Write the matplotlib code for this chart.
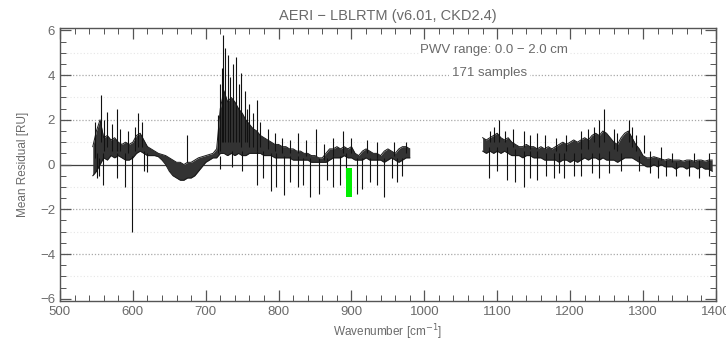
import numpy as np
import matplotlib
matplotlib.use("Agg")
import matplotlib.pyplot as plt
from matplotlib.ticker import MultipleLocator

# ---------------- data ----------------
# Segment 1 envelope (every 5 cm-1)
seg1_wn = list(range(545, 985, 5))
seg1_lo = [-0.5, -0.3, 0.0, 0.3, 0.2, 0.4, 0.3, 0.4, 0.3, 0.2, 0.2, 0.3, 0.5, 0.6, 0.5, 0.4,
           0.4, 0.4, 0.35, 0.2, 0.0, -0.3, -0.5, -0.6, -0.7, -0.7, -0.6, -0.6, -0.5, -0.3, -0.1, 0.1,
           0.2, 0.3, 0.3, 0.5, 0.5, 0.4, 0.5, 0.4, 0.5, 0.4, 0.4, 0.5, 0.5, 0.5, 0.5, 0.4,
           0.4, 0.4, 0.3, 0.3, 0.3, 0.3, 0.3, 0.2, 0.2, 0.2, 0.2, 0.2, 0.1, 0.1, 0.1, 0.1,
           0.1, 0.2, 0.3, 0.3, 0.3, 0.4, 0.3, 0.3, 0.2, 0.2, 0.2, 0.3, 0.2, 0.2, 0.2,
           0.2, 0.1, 0.2, 0.3, 0.2, 0.1, 0.2, 0.3, 0.3]
seg1_up = [0.8, 1.5, 2.0, 1.2, 1.3, 1.1, 1.2, 1.0, 0.9, 1.0, 0.9, 1.0, 1.3, 1.4, 1.1, 0.8,
           0.7, 0.6, 0.5, 0.45, 0.4, 0.3, 0.2, 0.1, 0.1, 0.0, 0.1, 0.1, 0.2, 0.3, 0.35, 0.4,
           0.45, 0.5, 0.7, 2.5, 3.3, 2.8, 3.0, 2.8, 2.5, 2.3, 2.0, 1.8, 1.6, 1.5, 1.3, 1.2,
           1.1, 1.0, 0.9, 0.9, 0.8, 0.8, 0.7, 0.7, 0.6, 0.6, 0.5, 0.5, 0.4, 0.4, 0.3, 0.3,
           0.5, 0.7, 0.7, 0.8, 0.7, 0.8, 0.7, 0.8, 0.5, 0.4, 0.6, 0.7, 0.6, 0.5, 0.5, 0.4,
           0.6, 0.7, 0.6, 0.5, 0.7, 0.8, 0.8, 0.7]

# Segment 2 envelope (every 5 cm-1)
seg2_wn = list(range(1080, 1400, 5))
seg2_lo = [0.6, 0.5, 0.6, 0.5, 0.6, 0.5, 0.6, 0.5, 0.4, 0.4, 0.4, 0.3, 0.4, 0.4, 0.3, 0.3,
           0.3, 0.2, 0.2, 0.2, 0.2, 0.1, 0.2, 0.2, 0.1, 0.2, 0.1, 0.2, 0.3, 0.2, 0.3, 0.3,
           0.2, 0.3, 0.2, 0.2, 0.2, 0.1, 0.2, 0.3, 0.3, 0.3, 0.2, 0.1, 0.0, -0.1, -0.1, 0.0,
           -0.1, 0.0, -0.1, -0.1, -0.1, -0.2, -0.1, -0.1, -0.2, -0.1, -0.1, -0.2, -0.1, -0.2, -0.2, -0.3]
seg2_up = [1.2, 1.1, 1.2, 1.3, 1.4, 1.2, 1.1, 1.2, 1.0, 0.9, 0.8, 0.8, 0.9, 0.8, 0.8, 0.7,
           0.8, 0.7, 0.8, 0.7, 0.8, 0.9, 1.0, 0.9, 1.0, 1.1, 1.0, 1.1, 1.2, 1.1, 1.3, 1.4,
           1.3, 1.5, 1.4, 1.2, 1.0, 0.9, 1.2, 1.4, 1.5, 1.2, 0.9, 0.7, 0.4, 0.3, 0.3, 0.35,
           0.3, 0.25, 0.2, 0.25, 0.2, 0.2, 0.2, 0.15, 0.2, 0.2, 0.15, 0.2, 0.2, 0.15, 0.2, 0.2]

# Narrow spectral spikes: wavenumber, base value, tip value
spike_wn = [556, 564, 578, 607, 675, 717, 720, 724, 730, 737, 742, 749, 760, 770, 826, 852, 888, 922,
            551, 559, 578, 589, 599, 619, 719, 770, 778, 790, 797, 808, 826, 843, 856, 866, 874,
            884, 908, 925, 945, 955, 970,
            1090, 1103, 1121, 1137, 1154, 1165, 1233, 1247, 1281, 1302, 1325,
            1089, 1113, 1124, 1137, 1154, 1167, 1178, 1192, 1206, 1254, 1295, 1332, 1363, 1377,
            548, 553, 561, 571, 583, 594, 603, 612, 615,
            722, 727, 733, 745, 754, 757, 765, 775, 785, 795, 805, 815, 838, 862, 875, 900, 935, 958, 975,
            736, 750, 815, 834, 893, 915, 935, 962,
            1095, 1110, 1145, 1180, 1195, 1215, 1225, 1240, 1260, 1265, 1285, 1290, 1310, 1340, 1370, 1390,
            1100, 1145, 1185, 1215, 1230, 1240, 1270, 1310, 1320, 1345, 1390]
spike_base = [1.0, 0.8, 0.6, 0.8, 0.1, 0.5, 0.6, 1.0, 1.0, 1.0, 1.0, 0.8, 0.8, 0.6, 0.5, 0.4, 0.5, 0.5,
              0.5, 0.5, 0.5, 0.5, 0.4, 0.5, 0.4, 0.6, 0.6, 0.5, 0.5, 0.4, 0.4, 0.3, 0.3, 0.3, 0.4,
              0.4, 0.3, 0.3, 0.3, 0.3, 0.3,
              1.0, 1.0, 0.8, 0.8, 0.7, 0.7, 1.0, 1.0, 1.0, 0.5, 0.2,
              0.8, 0.8, 0.7, 0.6, 0.6, 0.5, 0.5, 0.5, 0.5, 0.6, 0.4, 0.2, 0.2, 0.2,
              0.3, 0.3, 0.6, 0.6, 0.6, 0.5, 0.6, 0.8, 0.6,
              1.0, 1.0, 1.0, 1.0, 1.0, 1.0, 0.8, 0.8, 0.7, 0.6, 0.5, 0.5, 0.4, 0.2, 0.4, 0.5, 0.3, 0.4, 0.5,
              0.6, 0.6, 0.4, 0.3, 0.5, 0.3, 0.3, 0.3,
              1.0, 1.0, 0.7, 0.6, 0.6, 0.7, 0.7, 0.8, 0.7, 0.6, 0.8, 0.6, 0.2, 0.1, 0.1, 0.1,
              0.8, 0.6, 0.5, 0.5, 0.5, 0.5, 0.5, 0.2, 0.2, 0.1, 0.1]
spike_tip = [3.1, 2.35, 2.5, 2.3, 1.3, 2.2, 3.6, 5.8, 4.9, 4.5, 4.8, 4.1, 2.7, 2.9, 1.4, 1.6, 1.5, 1.1,
             -0.6, -0.9, -0.6, -1.0, -3.0, -0.35, -0.2, -0.9, -0.6, -1.2, -1.0, -1.35, -1.0, -1.45, -1.3, -0.7, -1.0,
             -0.9, -1.3, -0.8, -1.45, -0.6, -0.5,
             1.5, 2.0, 1.6, 1.5, 1.4, 1.3, 1.7, 2.5, 2.0, 1.3, 0.8,
             -0.6, -0.7, -0.8, -1.0, -0.7, -0.5, -0.6, -0.6, -0.5, -0.4, -0.3, -0.5, -0.5, -0.6,
             1.9, -0.5, 2.0, 1.8, 1.6, 1.5, 1.7, 1.9, -0.3,
             4.3, 5.2, 3.9, 3.6, 3.3, 2.5, 2.3, 1.9, 1.6, 1.4, 1.2, 1.1, 1.1, 0.9, 1.2, 1.2, 1.0, 1.0, 1.0,
             -0.1, -0.3, -0.8, -0.9, -0.6, -1.1, -0.9, -0.8,
             1.7, 1.5, 1.3, 1.2, 1.3, 1.5, 1.6, 2.0, 1.6, 1.4, 1.7, 1.3, 0.6, 0.5, 0.5, 0.5,
             -0.3, -0.6, -0.4, -0.5, -0.4, -0.6, -0.3, -0.4, -0.6, -0.5, -0.5]

# Highlighted window (green marker)
marker_wn = [892, 901]
marker_val = [-1.45, -0.15]

title = "AERI \u2212 LBLRTM (v6.01, CKD2.4)"
note1 = "PWV range: 0.0 \u2212 2.0 cm"
note2 = "171 samples"
xticks = [500, 600, 700, 800, 900, 1000, 1100, 1200, 1300, 1400]
yticks = [-6, -4, -2, 0, 2, 4, 6]

# ---------------- plot ----------------
plt.rcParams['font.family'] = ['Liberation Sans', 'DejaVu Sans']
txt = '#6a6a6a'
fig = plt.figure(figsize=(7.26, 3.47), dpi=100)
ax = fig.add_axes([0.0826, 0.1326, 0.9034, 0.7864])

for y in [-5, -3, -1, 1, 3, 5]:
    ax.axhline(y, color='#e6e6e6', lw=0.8, ls=(0, (1, 2)), zorder=0)
for y in [-4, -2, 2, 4]:
    ax.axhline(y, color='#a8a8a8', lw=0.9, ls=(0, (1, 1.5)), zorder=0)
ax.axhline(0, color='#404040', lw=0.9, zorder=1)

for wn, lo, up in [(seg1_wn, seg1_lo, seg1_up), (seg2_wn, seg2_lo, seg2_up)]:
    ax.fill_between(wn, lo, up, color='#333333', lw=0, zorder=2)
    ax.plot(wn, lo, color='#1a1a1a', lw=0.7, zorder=2.6)
    ax.plot(wn, up, color='#1a1a1a', lw=0.7, zorder=2.6)
ax.vlines(spike_wn, spike_base, spike_tip, color='#111111', lw=0.8, zorder=3)

ax.fill_between(marker_wn, marker_val[0], marker_val[1], color='#00ee00', lw=0, zorder=4)

ax.text(1096, 5.1, note1, ha='center', va='center', fontsize=9.5, color=txt,
        bbox=dict(facecolor='white', edgecolor='none', pad=1), zorder=5)
ax.text(1089, 4.1, note2, ha='center', va='center', fontsize=9.5, color=txt,
        bbox=dict(facecolor='white', edgecolor='none', pad=2), zorder=5)

ax.set_xlim(500, 1400)
ax.set_ylim(-6.1, 6.1)
ax.set_xticks(xticks)
ax.set_xticklabels([str(v) for v in xticks])
ax.set_yticks(yticks)
ax.set_yticklabels([str(v).replace('-', '\u2212') for v in yticks])
ax.xaxis.set_minor_locator(MultipleLocator(20))
ax.yaxis.set_minor_locator(MultipleLocator(0.5))
ax.tick_params(which='both', direction='in', top=True, right=True, colors='#555555',
               labelcolor=txt, labelsize=9.5)
ax.tick_params(which='major', length=8, width=0.9)
ax.tick_params(which='minor', length=4, width=0.7)
for s in ax.spines.values():
    s.set_color('#555555')
    s.set_linewidth(1.0)

ax.set_title(title, fontsize=10.5, color=txt, pad=6)
ax.set_xlabel("Wavenumber [cm$^{-1}$]", fontsize=8.5, color=txt, labelpad=3)
ax.set_ylabel("Mean Residual [RU]", fontsize=8.5, color=txt, labelpad=8)

fig.savefig("out.png", dpi=100)
